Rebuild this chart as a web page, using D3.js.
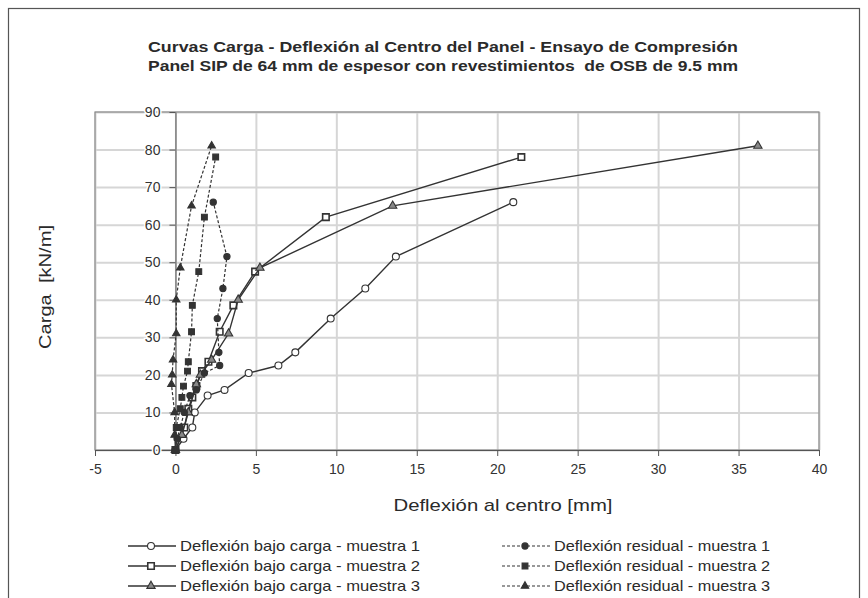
<!DOCTYPE html>
<html>
<head>
<meta charset="utf-8">
<script src="https://cdn.jsdelivr.net/npm/d3@7"></script>
<style>
  body { margin: 0; background: #fff; }
  text { font-family: 'Liberation Sans', Arial, sans-serif; fill: #2a2a2a; }
  .grid line { stroke: #d6d6d6; stroke-width: 2; }
  .grid path { display: none; }
  .axis path, .axis line { stroke: #555; }
  .axis text { font-size: 14px; fill: #333; }
</style>
</head>
<body>
<div id="chart"></div>
<script>
// Title lines
const titleLines = [
  'Curvas Carga - Deflexión al Centro del Panel - Ensayo de Compresión',
  'Panel SIP de 64 mm de espesor con revestimientos  de OSB de 9.5 mm'
]

// Tick values
const xTicks = [-5, 0, 5, 10, 15, 20, 25, 30, 35, 40]
const yTicks = [0, 10, 20, 30, 40, 50, 60, 70, 80, 90]

// Sample 1 - load [kN/m], deflection under load and residual deflection [mm]
const loads1 = [0, 3, 6, 10, 14.5, 16, 20.5, 22.5, 26, 35, 43, 51.5, 66]
const defl1 = [0, 0.5, 1.05, 1.2, 2.0, 3.05, 4.55, 6.4, 7.45, 9.65, 11.8, 13.7, 21.0]
const resid1 = [0, 0.1, 0.3, 0.55, 0.9, 1.3, 1.8, 2.75, 2.7, 2.6, 2.95, 3.2, 2.35]

// Sample 2
const loads2 = [0, 6, 11, 14, 17, 21, 23.5, 31.5, 38.5, 47.5, 62, 78]
const defl2 = [0, 0.55, 0.8, 1.05, 1.3, 1.65, 2.05, 2.75, 3.6, 4.95, 9.35, 21.5]
const resid2 = [0, 0.05, 0.3, 0.4, 0.5, 0.75, 0.8, 1.0, 1.05, 1.45, 1.8, 2.5]

// Sample 3
const loads3 = [0, 4, 10, 17.5, 20, 24, 31, 40, 48.5, 65, 81]
const defl3 = [0, 0.4, 0.8, 1.3, 1.55, 2.25, 3.3, 3.9, 5.25, 13.5, 36.2]
const resid3 = [0, -0.05, -0.05, -0.25, -0.2, -0.15, 0.05, 0.05, 0.3, 1.0, 2.25]

const seriesNames = [
  'Deflexión bajo carga - muestra 1',
  'Deflexión bajo carga - muestra 2',
  'Deflexión bajo carga - muestra 3',
  'Deflexión residual - muestra 1',
  'Deflexión residual - muestra 2',
  'Deflexión residual - muestra 3'
]

const zip = (xs, ys) => xs.map((x, i) => ({ x, y: ys[i] }))

// Series table (marker: circle / square / triangle, dashed: residual)
const series = [
  { name: seriesNames[0], data: zip(defl1, loads1), marker: 'circle', filled: false, dashed: false },
  { name: seriesNames[1], data: zip(defl2, loads2), marker: 'square', filled: false, dashed: false },
  { name: seriesNames[2], data: zip(defl3, loads3), marker: 'triangle', filled: false, dashed: false },
  { name: seriesNames[3], data: zip(resid1, loads1), marker: 'circle', filled: true, dashed: true },
  { name: seriesNames[4], data: zip(resid2, loads2), marker: 'square', filled: true, dashed: true },
  { name: seriesNames[5], data: zip(resid3, loads3), marker: 'triangle', filled: true, dashed: true }
]

const width = 868
const height = 598
const plot = { left: 95, right: 819, top: 112, bottom: 450 }

const svg = d3.select('#chart')
  .append('svg')
  .attr('width', width)
  .attr('height', height)

// Outer frame
svg.append('rect')
  .attr('x', 8.5)
  .attr('y', 8.5)
  .attr('width', 851)
  .attr('height', 600)
  .attr('fill', '#fff')
  .attr('stroke', '#555')
  .attr('stroke-width', 1.2)

// Scales
const xScale = d3.scaleLinear().domain([-5, 40]).range([plot.left, plot.right])
const yScale = d3.scaleLinear().domain([0, 90]).range([plot.bottom, plot.top])

// Gridlines
svg.append('g')
  .attr('class', 'grid')
  .attr('transform', `translate(0, ${plot.bottom})`)
  .call(d3.axisBottom(xScale).tickValues(xTicks).tickSize(-(plot.bottom - plot.top)).tickFormat(''))

svg.append('g')
  .attr('class', 'grid')
  .attr('transform', `translate(${plot.left}, 0)`)
  .call(d3.axisLeft(yScale).tickValues(yTicks).tickSize(-(plot.right - plot.left)).tickFormat(''))

// Plot border
svg.append('rect')
  .attr('x', plot.left)
  .attr('y', plot.top)
  .attr('width', plot.right - plot.left)
  .attr('height', plot.bottom - plot.top)
  .attr('fill', 'none')
  .attr('stroke', '#8a8a8a')
  .attr('stroke-width', 1.2)

// Bottom axis (at y = 0) - plain hyphen for negatives, as in the original
svg.append('g')
  .attr('class', 'axis')
  .attr('transform', `translate(0, ${yScale(0)})`)
  .call(d3.axisBottom(xScale).tickValues(xTicks).tickFormat(d => String(d))
    .tickSize(6).tickPadding(8).tickSizeOuter(0))

// Left axis (at x = 0)
const yAxis = svg.append('g')
  .attr('class', 'axis')
  .attr('transform', `translate(${xScale(0)}, 0)`)
  .call(d3.axisLeft(yScale).tickValues(yTicks).tickFormat(d => String(d))
    .tickSize(6).tickPadding(9).tickSizeOuter(0))

yAxis.selectAll('text')
  .attr('stroke', '#fff')
  .attr('stroke-width', 3)
  .attr('paint-order', 'stroke')

// Marker shapes
const symbolFor = { circle: d3.symbolCircle, square: d3.symbolSquare, triangle: d3.symbolTriangle }
const sizeFor = { circle: 38, square: 42, triangle: 30 }

const drawMarker = (sel, s) => sel
  .attr('d', d3.symbol().type(symbolFor[s.marker]).size(s.filled ? sizeFor[s.marker] * 0.8 : sizeFor[s.marker]))
  .attr('fill', s.filled ? '#333' : (s.marker === 'triangle' ? '#888' : '#fff'))
  .attr('stroke', '#333')
  .attr('stroke-width', s.marker === 'square' && !s.filled ? 1.6 : 1.1)

const line = d3.line()
  .x(d => xScale(d.x))
  .y(d => yScale(d.y))

// Series lines and markers
series.forEach(s => {
  svg.append('path')
    .datum(s.data)
    .attr('fill', 'none')
    .attr('stroke', '#333')
    .attr('stroke-width', s.dashed ? 1.2 : 1.4)
    .attr('stroke-dasharray', s.dashed ? '3,2' : null)
    .attr('d', line)

  svg.append('g')
    .selectAll('path')
    .data(s.data)
    .join('path')
    .attr('transform', d => `translate(${xScale(d.x)}, ${yScale(d.y)})`)
    .call(drawMarker, s)
})

// Title
svg.append('g')
  .selectAll('text')
  .data(titleLines)
  .join('text')
  .attr('x', 443)
  .attr('y', (d, i) => 52 + i * 19)
  .attr('text-anchor', 'middle')
  .attr('font-size', 14)
  .attr('font-weight', 'bold')
  .attr('fill', '#333')
  .attr('xml:space', 'preserve')
  .attr('textLength', 590)
  .attr('lengthAdjust', 'spacingAndGlyphs')
  .text(d => d)

// Axis titles
svg.append('text')
  .attr('x', 503)
  .attr('y', 511)
  .attr('text-anchor', 'middle')
  .attr('font-size', 17)
  .attr('textLength', 219)
  .attr('lengthAdjust', 'spacingAndGlyphs')
  .text('Deflexión al centro [mm]')

svg.append('text')
  .attr('transform', 'translate(51, 287) rotate(-90)')
  .attr('text-anchor', 'middle')
  .attr('font-size', 17)
  .attr('xml:space', 'preserve')
  .attr('textLength', 124)
  .attr('lengthAdjust', 'spacingAndGlyphs')
  .text('Carga  [kN/m]')

// Legend - two columns of three rows
const legend = svg.append('g')
  .selectAll('g')
  .data(series)
  .join('g')
  .attr('transform', (d, i) => `translate(${i < 3 ? 128 : 502}, ${546 + (i % 3) * 20})`)

legend.append('line')
  .attr('x1', 0)
  .attr('x2', 48)
  .attr('stroke', '#333')
  .attr('stroke-width', d => d.dashed ? 1.2 : 1.4)
  .attr('stroke-dasharray', d => d.dashed ? '3,2' : null)

legend.append('path')
  .attr('transform', 'translate(23, 0)')
  .each(function (d) { d3.select(this).call(drawMarker, d) })

legend.append('text')
  .attr('x', 52)
  .attr('y', 5)
  .attr('font-size', 15)
  .attr('textLength', d => d.dashed ? 216 : 240)
  .attr('lengthAdjust', 'spacingAndGlyphs')
  .text(d => d.name)
</script>
</body>
</html>
